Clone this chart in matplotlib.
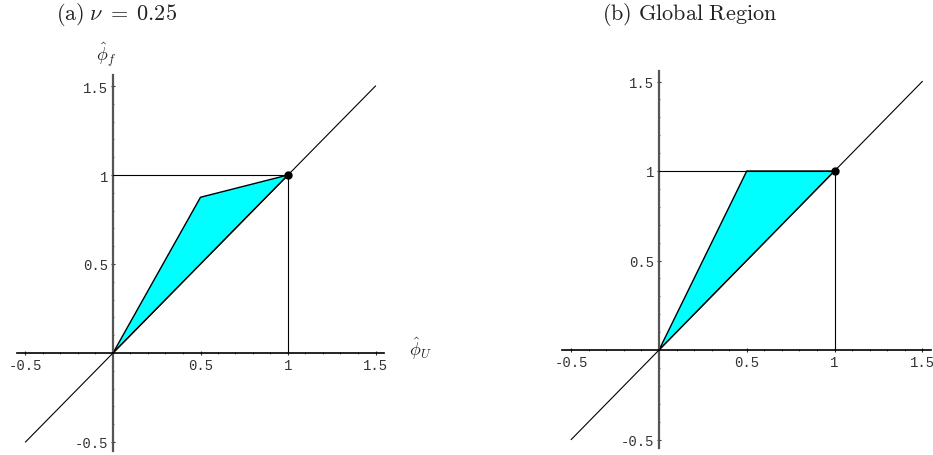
import matplotlib
matplotlib.use('Agg')
import matplotlib.pyplot as plt
import numpy as np

# Polygon vertices for the two admissible regions (phi_U, phi_f)
region_a_x = [0.0, 0.5, 1.0]
region_a_y = [0.0, 0.875, 1.0]
region_b_x = [0.0, 0.5, 1.0]
region_b_y = [0.0, 1.0, 1.0]

diag = [-0.5, 1.5]
major_ticks = [-0.5, 0.5, 1.0, 1.5]
tick_labels = ['-0.5', '0.5', '1', '1.5']
minor_ticks = np.arange(-0.5, 1.51, 0.1)

titles = [r'$\mathrm{(a)}\;\nu\;=\;0.25$', r'$\mathrm{(b)\ Global\ Region}$']

plt.rcParams['mathtext.fontset'] = 'cm'

W, H = 933, 456
fig = plt.figure(figsize=(W / 100, H / 100), dpi=100)

# origin pixel position and pixel-per-unit scale for each panel
panels = [
    dict(ox=113, oy=354, sx=175, sy=178, rx=region_a_x, ry=region_a_y, labels=True),
    dict(ox=659, oy=351, sx=175.5, sy=179, rx=region_b_x, ry=region_b_y, labels=False),
]

xlim = (-0.6, 1.6)
ylim = (-0.57, 1.6)

for p, title in zip(panels, titles):
    left = p['ox'] + p['sx'] * xlim[0]
    right = p['ox'] + p['sx'] * xlim[1]
    top = p['oy'] - p['sy'] * ylim[1]
    bottom = p['oy'] - p['sy'] * ylim[0]
    ax = fig.add_axes([left / W, 1 - bottom / H, (right - left) / W, (bottom - top) / H])
    ax.set_xlim(*xlim)
    ax.set_ylim(*ylim)
    ax.patch.set_visible(False)

    # shaded region
    ax.fill(p['rx'], p['ry'], color='#00ffff', ec='black', lw=1.0, zorder=2)
    # diagonal and guide lines
    ax.plot(diag, diag, color='black', lw=0.8, zorder=3)
    ax.plot([0, 1], [1, 1], color='black', lw=0.8, zorder=3)
    ax.plot([1, 1], [0, 1], color='black', lw=0.8, zorder=3)
    ax.plot([1], [1], 'o', color='black', ms=5, zorder=4)

    # axes through the origin
    for side in ['top', 'right']:
        ax.spines[side].set_visible(False)
    ax.spines['left'].set_position(('data', 0))
    ax.spines['bottom'].set_position(('data', 0))
    ax.spines['left'].set_bounds(-0.55, 1.56)
    ax.spines['bottom'].set_bounds(-0.55, 1.55)
    ax.spines['left'].set_color('#555555')
    ax.spines['left'].set_linewidth(1.6)
    ax.spines['bottom'].set_linewidth(1.2)

    ax.set_xticks(major_ticks)
    ax.set_xticklabels(tick_labels)
    ax.set_yticks(major_ticks)
    ax.set_yticklabels(tick_labels)
    ax.set_xticks(minor_ticks, minor=True)
    ax.set_yticks(minor_ticks, minor=True)
    ax.tick_params(which='major', length=3, width=0.8, direction='inout', color='#333333',
                   labelsize=10, pad=2)
    ax.tick_params(which='minor', length=2, width=0.6, direction='inout', color='#555555')
    for lab in ax.get_xticklabels() + ax.get_yticklabels():
        lab.set_family('Liberation Mono')
        lab.set_color('#333333')

    # title above the panel
    fig.text((p['ox'] - 57) / W, 1 - 15 / H, title, fontsize=16,
             va='center', ha='left', color='#222222')

    if p['labels']:
        ax.text(1.755, 0.03, r'$\hat{\phi}_U$', fontsize=13, ha='center', va='center',
                color='#222222', clip_on=False)
        ax.text(-0.04, 1.68, r'$\hat{\phi}_f$', fontsize=13, ha='center', va='center',
                color='#222222', clip_on=False)

fig.savefig('out.png', dpi=100)
